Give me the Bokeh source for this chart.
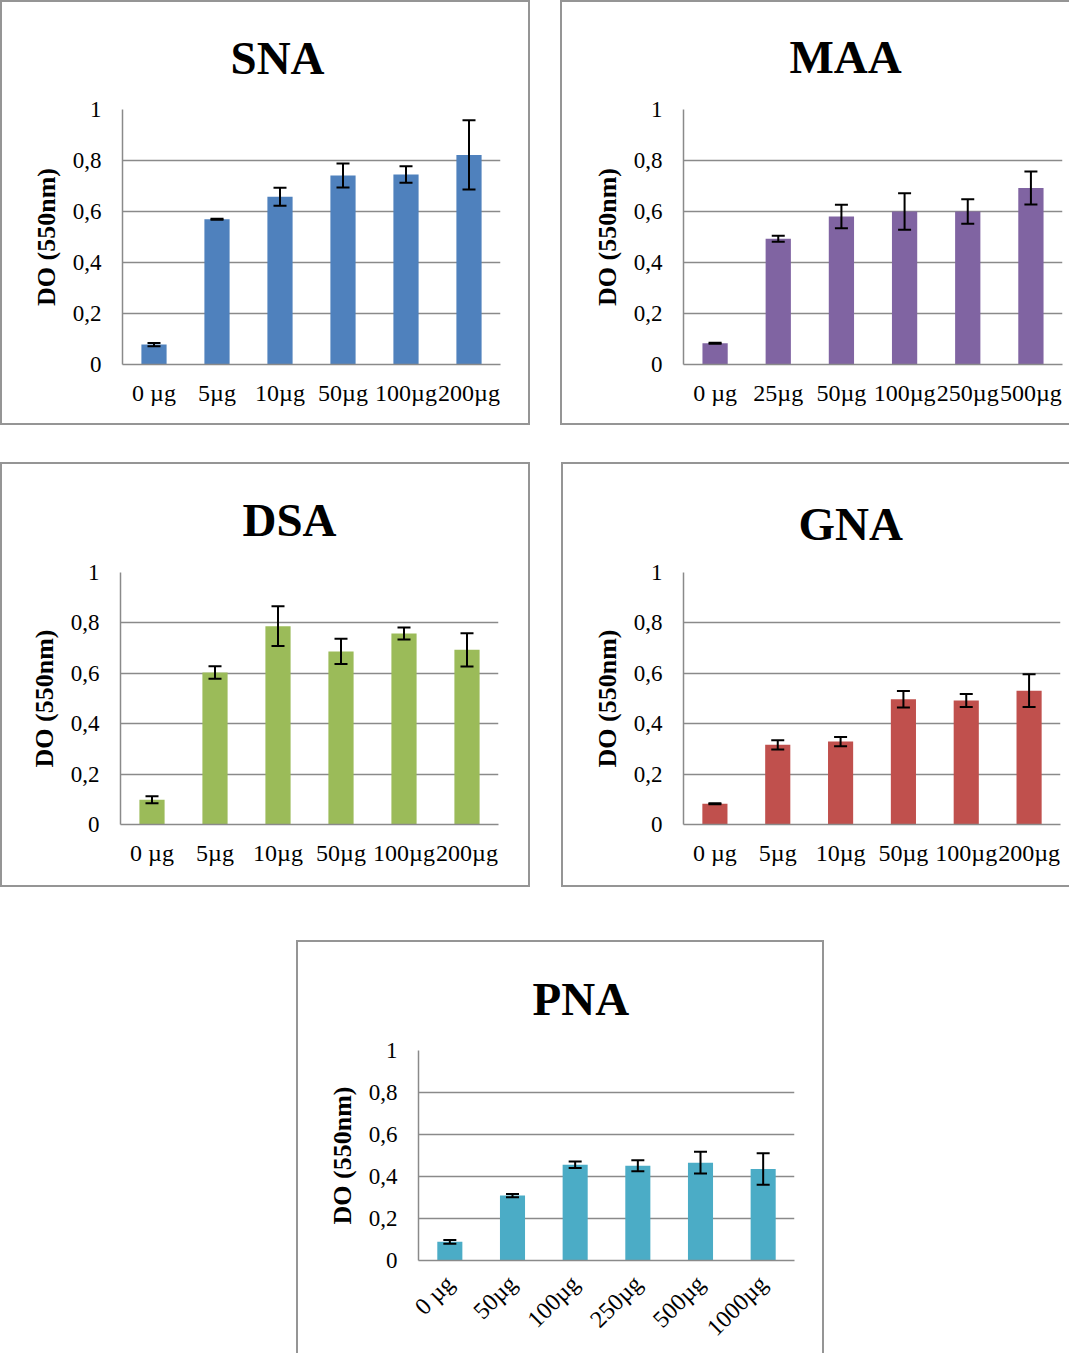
import math
from bokeh.plotting import figure
from bokeh.layouts import column, row, Spacer
from bokeh.models import ColumnDataSource, Range1d, FixedTicker, Whisker, TeeHead
from bokeh.embed import file_html
from bokeh.resources import INLINE

# ---------------- data ----------------
y_ticks = [0, 0.2, 0.4, 0.6, 0.8, 1.0]
y_tick_labels = ["0", "0,2", "0,4", "0,6", "0,8", "1"]
y_label = "DO (550nm)"

sna_cats = ["0 µg", "5µg", "10µg", "50µg", "100µg", "200µg"]
sna_vals = [0.078, 0.570, 0.658, 0.741, 0.745, 0.822]
sna_errs = [0.006, 0.002, 0.035, 0.047, 0.032, 0.136]

maa_cats = ["0 µg", "25µg", "50µg", "100µg", "250µg", "500µg"]
maa_vals = [0.083, 0.493, 0.580, 0.600, 0.600, 0.692]
maa_errs = [0.002, 0.012, 0.046, 0.072, 0.048, 0.065]

dsa_cats = ["0 µg", "5µg", "10µg", "50µg", "100µg", "200µg"]
dsa_vals = [0.098, 0.603, 0.787, 0.687, 0.758, 0.693]
dsa_errs = [0.014, 0.025, 0.079, 0.050, 0.024, 0.066]

gna_cats = ["0 µg", "5µg", "10µg", "50µg", "100µg", "200µg"]
gna_vals = [0.082, 0.316, 0.329, 0.497, 0.492, 0.531]
gna_errs = [0.002, 0.018, 0.018, 0.033, 0.026, 0.065]

pna_cats = ["0 µg", "50µg", "100µg", "250µg", "500µg", "1000µg"]
pna_vals = [0.089, 0.309, 0.456, 0.451, 0.466, 0.436]
pna_errs = [0.009, 0.008, 0.016, 0.026, 0.052, 0.075]

FONT = "Liberation Serif"
GRID = "#8a8a8a"
BORDER = "#959595"


def border_style(sides):
    shadows = []
    if "l" in sides:
        shadows.append(f"inset 2px 0 0 {BORDER}")
    if "r" in sides:
        shadows.append(f"inset -2px 0 0 {BORDER}")
    if "t" in sides:
        shadows.append(f"inset 0 2px 0 {BORDER}")
    if "b" in sides:
        shadows.append(f"inset 0 -2px 0 {BORDER}")
    return {"box-shadow": ", ".join(shadows)}


def panel(title, cats, vals, errs, color, w, h, ml, mr, mt, mb,
          title_x, title_standoff, sides, rotate=False):
    p = figure(x_range=cats, y_range=Range1d(0, 1), width=w, height=h,
               output_backend="svg", toolbar_location=None,
               min_border_left=ml, min_border_right=mr,
               min_border_top=mt, min_border_bottom=mb)
    p.border_fill_color = None
    p.background_fill_color = "white"
    p.outline_line_color = None
    p.styles = border_style(sides)

    # title
    p.title.text = title
    p.title.align = "left"
    p.title.offset = title_x
    p.title.standoff = title_standoff
    p.title.text_font = FONT
    p.title.text_font_style = "bold"
    p.title.text_font_size = "47px"
    p.title.text_color = "black"

    src = ColumnDataSource(dict(
        x=cats, top=vals,
        upper=[v + e for v, e in zip(vals, errs)],
        lower=[v - e for v, e in zip(vals, errs)],
    ))
    p.vbar(x="x", top="top", width=0.4, source=src, fill_color=color,
           line_color=None)
    wk = Whisker(source=src, base="x", upper="upper", lower="lower",
                 line_color="black", line_width=2, level="annotation",
                 upper_head=TeeHead(size=13, line_width=2, line_color="black"),
                 lower_head=TeeHead(size=13, line_width=2, line_color="black"))
    p.add_layout(wk)

    # y axis
    p.yaxis.ticker = FixedTicker(ticks=y_ticks)
    p.yaxis.major_label_overrides = dict(zip(y_ticks, y_tick_labels))
    p.yaxis.major_label_text_font = FONT
    p.yaxis.major_label_text_font_size = "23px"
    p.yaxis.major_label_text_color = "black"
    p.yaxis.major_label_standoff = 15
    p.yaxis.major_tick_line_color = None
    p.yaxis.minor_tick_line_color = None
    p.yaxis.axis_line_color = GRID
    p.yaxis.axis_line_width = 1.5
    p.yaxis.axis_label = y_label
    p.yaxis.axis_label_text_font = FONT
    p.yaxis.axis_label_text_font_style = "bold"
    p.yaxis.axis_label_text_font_size = "26px"
    p.yaxis.axis_label_text_color = "black"
    p.yaxis.axis_label_standoff = 9

    # x axis
    p.xaxis.major_label_text_font = FONT
    p.xaxis.major_label_text_font_size = "24px"
    p.xaxis.major_label_text_color = "black"
    p.xaxis.major_label_standoff = 9
    p.xaxis.major_tick_line_color = None
    p.xaxis.minor_tick_line_color = None
    p.xaxis.axis_line_color = GRID
    p.xaxis.axis_line_width = 1.5
    if rotate:
        p.xaxis.major_label_orientation = math.pi / 4
        p.xaxis.major_label_standoff = 13

    p.xgrid.visible = False
    p.ygrid.ticker = FixedTicker(ticks=y_ticks)
    p.ygrid.grid_line_color = GRID
    p.ygrid.grid_line_width = 1.5
    return p


sna = panel("SNA", sna_cats, sna_vals, sna_errs, "#4F81BD",
            530, 425, 122, 30, 109, 61, 108, 52, "lrtb")
maa = panel("MAA", maa_cats, maa_vals, maa_errs, "#8064A2",
            509, 425, 123, 7, 109, 61, 106, 53, "ltb")
dsa = panel("DSA", dsa_cats, dsa_vals, dsa_errs, "#9BBB59",
            530, 425, 120, 32, 110, 60, 122, 53, "lrtb")
gna = panel("GNA", gna_cats, gna_vals, gna_errs, "#C0504D",
            508, 425, 122, 9, 107, 63, 115, 46, "ltb")
pna = panel("PNA", pna_cats, pna_vals, pna_errs, "#4BACC6",
            528, 413, 122, 30, 110, 91, 114, 52, "lrt", rotate=True)

layout = column(
    row(sna, Spacer(width=30, height=425), maa),
    Spacer(width=10, height=37),
    row(dsa, Spacer(width=31, height=425), gna),
    Spacer(width=10, height=53),
    row(Spacer(width=296, height=413), pna),
)

open("out.html", "w").write(file_html(layout, INLINE))
